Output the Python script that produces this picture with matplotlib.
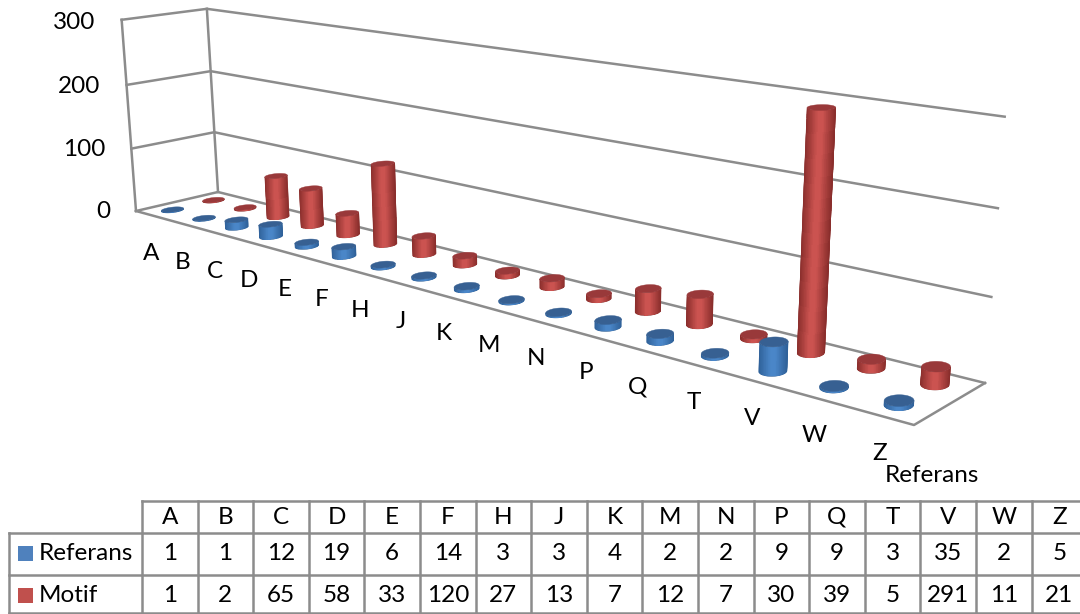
#!/usr/bin/env python
# 3D cylinder chart with data table, drawn through a perspective projection
import numpy as np
import matplotlib
matplotlib.use('Agg')
from matplotlib import pyplot as plt
from matplotlib.colors import LinearSegmentedColormap
from matplotlib.patches import Polygon, Rectangle

plt.rcParams['font.family'] = ['Lato', 'DejaVu Sans']

categories = ['A', 'B', 'C', 'D', 'E', 'F', 'H', 'J', 'K', 'M', 'N', 'P', 'Q', 'T', 'V', 'W', 'Z']
referans = [1, 1, 12, 19, 6, 14, 3, 3, 4, 2, 2, 9, 9, 3, 35, 2, 5]
motif = [1, 2, 65, 58, 33, 120, 27, 13, 7, 12, 7, 30, 39, 5, 291, 11, 21]
y_ticks = [0, 100, 200, 300]
series_names = ['Referans', 'Motif']

GRID = '#8c8c8c'
INK = '#000000'
FS = 17.5
LW = 1.8


def homography(pts):
    # unit square -> the four pixel corners (00, 10, 11, 01)
    src = [(0, 0), (1, 0), (1, 1), (0, 1)]
    A, b = [], []
    for (u, v), (x, y) in zip(src, pts):
        A.append([u, v, 1, 0, 0, 0, -u*x, -v*x])
        A.append([0, 0, 0, u, v, 1, -u*y, -v*y])
        b += [x, y]
    h = np.linalg.solve(np.array(A, float), np.array(b, float))
    return np.append(h, 1).reshape(3, 3)


H = homography([(136, 211), (914, 425), (985, 383), (218, 192)])

# height column of the camera, fitted to the three visible top corners
A, b = [], []
for (u, v), (x, y) in [((0, 0), (122, 18)), ((1, 1), (1004, 122)), ((0, 1), (207, 7))]:
    w0 = H[2, 0]*u + H[2, 1]*v + H[2, 2]
    X0 = H[0, 0]*u + H[0, 1]*v + H[0, 2]
    Y0 = H[1, 0]*u + H[1, 1]*v + H[1, 2]
    A.append([1, 0, -x])
    b.append(x*w0 - X0)
    A.append([0, 1, -y])
    b.append(y*w0 - Y0)
cx, cy, cw = np.linalg.lstsq(np.array(A, float), np.array(b, float), rcond=None)[0]


def project(u, v, z):
    u, v = np.asarray(u, float), np.asarray(v, float)
    t = np.asarray(z, float)/300.0
    w = H[2, 0]*u + H[2, 1]*v + H[2, 2] + cw*t
    return np.array([(H[0, 0]*u + H[0, 1]*v + H[0, 2] + cx*t)/w,
                     (H[1, 0]*u + H[1, 1]*v + H[1, 2] + cy*t)/w])


def cylinder(ax, i, v0, val, base, edge, top):
    u0 = (i + 0.5)/len(categories)
    th = np.linspace(0, 2*np.pi, 121)
    us = u0 + 0.0108*np.cos(th)
    vs = v0 + 0.115*np.sin(th)
    bot = project(us, vs, 0*th)
    up = project(us, vs, 0*th + val)

    # front half of the ring, between the leftmost and rightmost points
    il, ir = np.argmin(bot[0][:-1]), np.argmax(bot[0][:-1])
    idx = np.arange(il, il + 121) % 120
    idx = idx[:np.where(idx == ir)[0][0] + 1]
    if bot[1][idx].mean() < bot[1][:-1].mean():
        idx = np.arange(il, il - 121, -1) % 120
        idx = idx[:np.where(idx == ir)[0][0] + 1]

    cmap = LinearSegmentedColormap.from_list('c', [(0, edge), (0.42, base), (0.58, base), (1, edge)])
    ax.plot(bot[0][idx], bot[1][idx] + 1.0, color='#ffffff', lw=1.0, zorder=3)
    X = np.array([bot[0][idx], up[0][idx]])
    Y = np.array([bot[1][idx], up[1][idx]])
    C = (X[0][:-1] + X[0][1:])/2
    C = (C - X[0].min())/(X[0].max() - X[0].min())
    outline = np.column_stack([np.r_[X[0], X[1][::-1]], np.r_[Y[0], Y[1][::-1]]])
    # solid body first so the mesh edges stay soft
    ax.add_patch(Polygon(outline, closed=True, facecolor=edge, edgecolor=edge, lw=0.3, zorder=3))
    mesh = ax.pcolormesh(X, Y, C.reshape(1, -1), shading='flat', cmap=cmap, vmin=0, vmax=1,
                         antialiased=False, edgecolors='none', zorder=3)
    mesh.set_clip_path(Polygon(outline, closed=True, transform=ax.transData))
    ax.add_patch(Polygon(np.column_stack(up), closed=True, facecolor=top, edgecolor=top,
                         lw=0.3, zorder=3))


fig = plt.figure(figsize=(10.8, 6.14), dpi=100)
ax = fig.add_axes([0, 0, 1, 1])
ax.axis('off')

# walls and gridlines
for t in y_ticks:
    p0 = project(0, 0, t)
    p1 = project(0, 1, t)
    p2 = project(1, 1, t)
    ax.plot([p0[0], p1[0], p2[0]], [p0[1], p1[1], p2[1]], color=GRID, lw=LW, zorder=1)
    ax.text(p0[0] - 26, p0[1] + 2*t/300.0 + 0.5, str(t), ha='right', va='center', fontsize=FS, color=INK)
for v in [0, 1]:
    p0 = project(0, v, 0)
    p1 = project(0, v, 300)
    ax.plot([p0[0], p1[0]], [p0[1], p1[1]], color=GRID, lw=LW, zorder=1)
p0 = project(0, 0, 0)
p1 = project(1, 0, 0)
p2 = project(1, 1, 0)
ax.plot([p0[0], p1[0], p2[0]], [p0[1], p1[1], p2[1]], color=GRID, lw=LW, zorder=2)

# back row first so the front row overlaps it
for i, val in enumerate(motif):
    cylinder(ax, i, 0.75, val, '#cb5350', '#8a2e2c', '#99393a')
for i, val in enumerate(referans):
    cylinder(ax, i, 0.25, val, '#4a86c8', '#2f6199', '#376092')

# axis labels
n = len(categories)
for i, c in enumerate(categories):
    p = project((i + 0.5)/n, -0.32, 0)
    ax.text(p[0] + 28 - 3*i/(n - 1), p[1] + 32 - 8*i/(n - 1), c, ha='center', va='center',
            fontsize=FS, color=INK)
ax.text(932, 475, series_names[0], ha='center', va='center', fontsize=FS, color=INK)

# data table
x0 = 142.0
cw_tab = 55.6
xs = [x0 + k*cw_tab for k in range(n + 1)]
ys = [501, 533, 575, 614]
for x in xs:
    ax.plot([x, x], [ys[0], ys[3]], color=GRID, lw=LW, zorder=1)
ax.plot([x0, 1080], [ys[0], ys[0]], color=GRID, lw=LW)
for y in ys[1:3]:
    ax.plot([9, 1080], [y, y], color=GRID, lw=LW)
ax.plot([9, 9], [ys[1], ys[3]], color=GRID, lw=LW)
ax.plot([9, 1080], [613, 613], color=GRID, lw=LW)

for k, c in enumerate(categories):
    xc = x0 + (k + 0.5)*cw_tab
    ax.text(xc, 517, c, ha='center', va='center', fontsize=FS, color=INK)
    ax.text(xc, 553, str(referans[k]), ha='center', va='center', fontsize=FS, color=INK)
    ax.text(xc, 595, str(motif[k]), ha='center', va='center', fontsize=FS, color=INK)

ax.add_patch(Rectangle((18, 546), 15, 15, facecolor='#4f81bd', edgecolor='none'))
ax.add_patch(Rectangle((18, 588), 15, 15, facecolor='#c0504d', edgecolor='none'))
ax.text(39, 553, series_names[0], ha='left', va='center', fontsize=FS, color=INK)
ax.text(39, 595, series_names[1], ha='left', va='center', fontsize=FS, color=INK)

ax.set_xlim(0, 1080)
ax.set_ylim(614, 0)
fig.savefig('out.png', dpi=100)
